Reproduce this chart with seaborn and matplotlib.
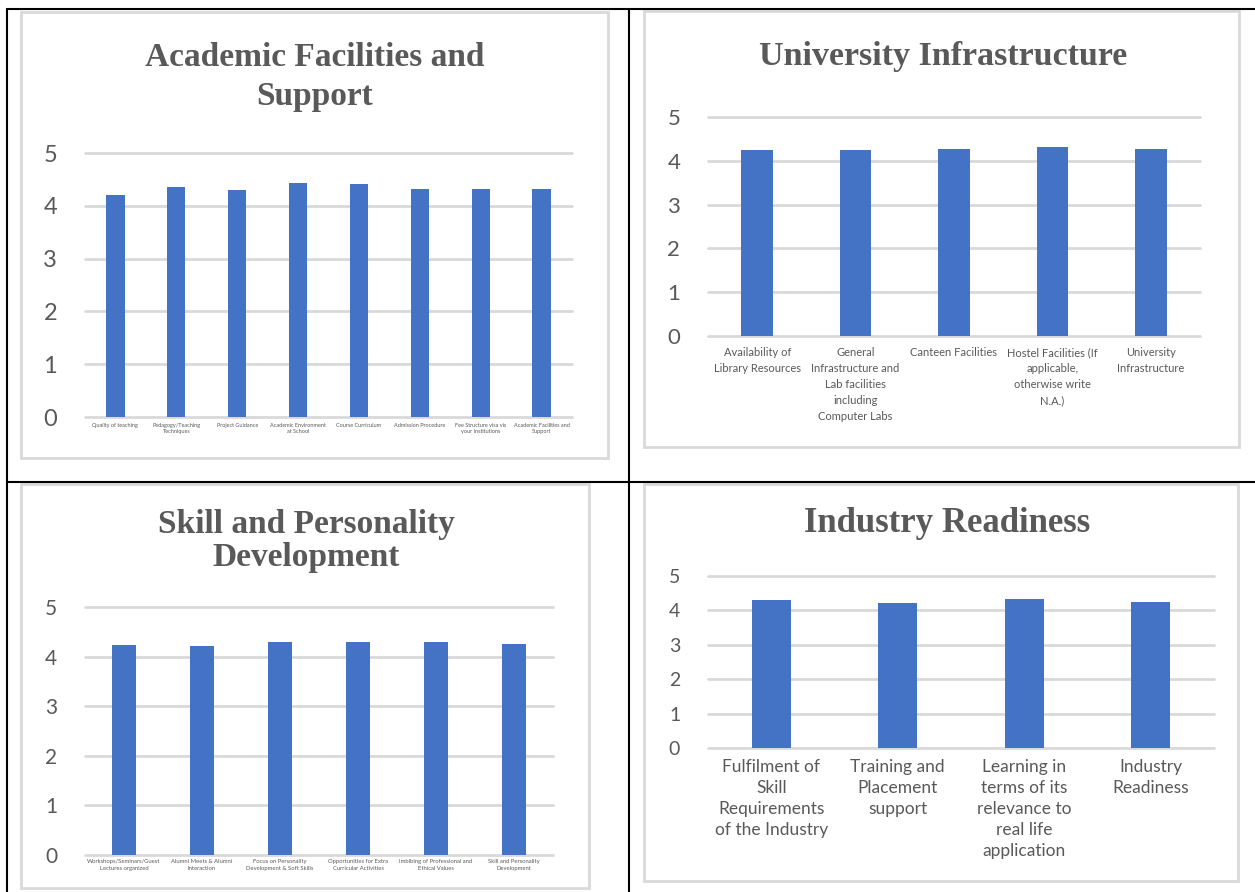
import matplotlib.pyplot as plt
import seaborn as sns
from matplotlib.lines import Line2D
from matplotlib.patches import Rectangle

# --- Dados dos quatro gráficos ---

academic_labels = ['Quality of teaching', 'Pedagogy/Teaching\nTechniques', 'Project Guidance',
                   'Academic Environment\nat School', 'Course Curriculum', 'Admission Procedure',
                   'Fee Structure visa vis\nyour Institutions', 'Academic Facilities and\nSupport']
academic_values = [4.20, 4.35, 4.29, 4.44, 4.41, 4.32, 4.32, 4.32]

infra_labels = ['Availability of\nLibrary Resources',
                'General\nInfrastructure and\nLab facilities\nincluding\nComputer Labs',
                'Canteen Facilities',
                'Hostel Facilities (If\napplicable,\notherwise write\nN.A.)',
                'University\nInfrastructure']
infra_values = [4.24, 4.24, 4.28, 4.32, 4.28]

skill_labels = ['Workshops/Seminars/Guest\nLectures organized', 'Alumni Meets & Alumni\nInteraction',
                'Focus on Personality\nDevelopment & Soft Skills',
                'Opportunities for Extra\nCurricular Activities',
                'Imbibing of Professional and\nEthical Values', 'Skill and Personality\nDevelopment']
skill_values = [4.23, 4.21, 4.29, 4.29, 4.29, 4.26]

industry_labels = ['Fulfilment of\nSkill\nRequirements\nof the Industry', 'Training and\nPlacement\nsupport',
                   'Learning in\nterms of its\nrelevance to\nreal life\napplication', 'Industry\nReadiness']
industry_values = [4.30, 4.22, 4.33, 4.25]

y_ticks = [0, 1, 2, 3, 4, 5]

BAR_COLOR = '#4472C4'
GRID_COLOR = '#D9D9D9'
TEXT_COLOR = '#595959'
W, H = 1255, 892

sns.set_style('white')
plt.rcParams['font.family'] = ['Lato', 'DejaVu Sans']


def caixa(fig, x0, y0, x1, y1):
    # moldura cinza clara de cada gráfico (coordenadas em pixels)
    fig.add_artist(Rectangle((x0 / W, 1 - y1 / H), (x1 - x0) / W, (y1 - y0) / H,
                             transform=fig.transFigure, facecolor='white',
                             edgecolor=GRID_COLOR, linewidth=2, zorder=0))


def grafico(fig, area, labels, values, bar_width, tick_size, label_size, label_pad, espaco):
    x0, y0, x1, y1 = area
    ax = fig.add_axes([x0 / W, 1 - y1 / H, (x1 - x0) / W, (y1 - y0) / H])
    ax.patch.set_alpha(0)
    sns.barplot(x=labels, y=values, color=BAR_COLOR, width=bar_width, saturation=1,
                linewidth=0, ax=ax)
    ax.set_ylim(0, 5)
    ax.set_xlim(-0.5, len(labels) - 0.5)
    ax.set_yticks(y_ticks)
    ax.yaxis.grid(True, color=GRID_COLOR, linewidth=2)
    for linha in ax.get_ygridlines():
        linha.set_clip_on(False)
    ax.set_axisbelow(True)
    sns.despine(ax=ax, left=True, bottom=True)
    ax.tick_params(axis='y', length=0, pad=20, labelsize=tick_size, labelcolor=TEXT_COLOR)
    ax.tick_params(axis='x', length=0, pad=label_pad, labelsize=label_size, labelcolor=TEXT_COLOR)
    for t in ax.get_xticklabels():
        t.set_linespacing(espaco)
    ax.set_xlabel('')
    ax.set_ylabel('')
    return ax


def titulo(fig, x, y, texto, size, espaco=1.0):
    fig.text(x / W, 1 - y / H, texto, ha='center', va='center', fontsize=size,
             family='Liberation Serif', weight='bold', color=TEXT_COLOR, linespacing=espaco)


fig = plt.figure(figsize=(W / 100, H / 100), dpi=100)

# linhas pretas da tabela
for xs, ys in [([7, 7], [9, 892]), ([629, 629], [9, 892]), ([7, 1255], [9, 9]), ([7, 1255], [482, 482])]:
    fig.add_artist(Line2D([x / W for x in xs], [1 - y / H for y in ys], color='black',
                          linewidth=1.5, transform=fig.transFigure))

# --- Academic Facilities and Support ---
caixa(fig, 21, 12, 608, 458)
titulo(fig, 315, 77, 'Academic Facilities and\nSupport', 24, 1.36)
grafico(fig, (85, 153, 572, 417), academic_labels, academic_values, 0.30, 17, 4.0, 4, 1.4)

# --- University Infrastructure ---
caixa(fig, 644, 11, 1239, 447)
titulo(fig, 943, 56, 'University Infrastructure', 24.5)
grafico(fig, (708, 117, 1200, 336), infra_labels, infra_values, 0.32, 16, 8, 8, 1.55)

# --- Skill and Personality Development ---
caixa(fig, 21, 484, 589, 888)
titulo(fig, 306, 541, 'Skill and Personality\nDevelopment', 24, 1.1)
grafico(fig, (85, 607, 553, 855), skill_labels, skill_values, 0.31, 15, 4.2, 3, 1.4)

# --- Industry Readiness ---
caixa(fig, 644, 484, 1238, 881)
titulo(fig, 947, 523, 'Industry Readiness', 25)
grafico(fig, (708, 576, 1214, 748), industry_labels, industry_values, 0.31, 14, 12.5, 8, 1.38)

plt.savefig('out.png', dpi=100)
plt.close()
print("Gráfico salvo como 'out.png'")
